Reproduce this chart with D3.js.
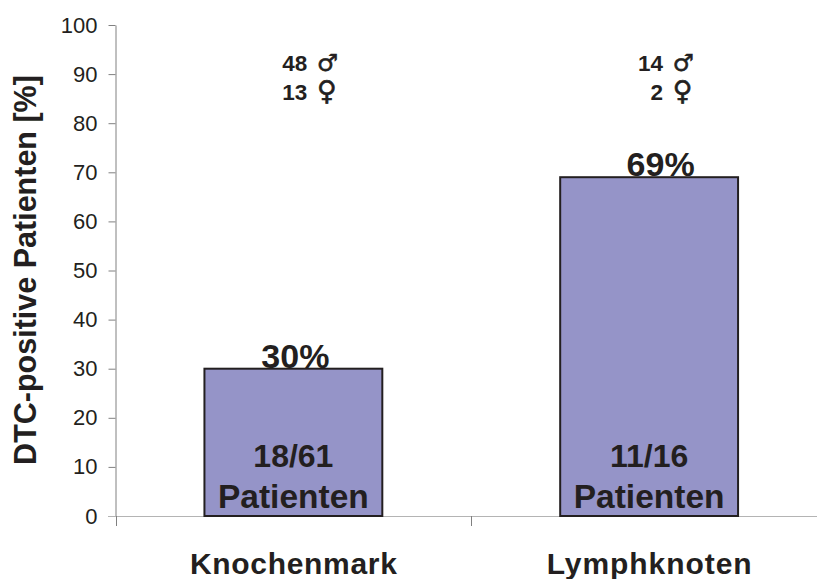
<!DOCTYPE html>
<html>
<head>
<meta charset="utf-8">
<script src="https://cdn.jsdelivr.net/npm/d3@7/dist/d3.min.js"></script>
<style>
  html, body { margin: 0; padding: 0; background: #fff; }
  svg { display: block; }
  text { font-family: "Liberation Sans", Arial, sans-serif; fill: #231f20; }
</style>
</head>
<body>
<svg id="chart" width="817" height="579"></svg>
<script>
const categories = ["Knochenmark", "Lymphknoten"];
const percentages = [30, 69];
const patientCounts = ["18/61", "11/16"];
const maleCounts = [48, 14];
const femaleCounts = [13, 2];
const yTicks = [0, 10, 20, 30, 40, 50, 60, 70, 80, 90, 100];
const yTitle = "DTC-positive Patienten [%]";
const patientWord = "Patienten";

const svg = d3.select("#chart");

const x = d3.scaleBand()
  .domain(categories)
  .range([115.5, 827])
  .paddingInner(0.5)
  .paddingOuter(0.25);
const step = x.step();

const y = d3.scaleLinear().domain([0, 100]).range([516, 25]);

// Value axis
const yAxis = svg.append("g")
  .attr("transform", "translate(115.5,0)")
  .call(d3.axisLeft(y).tickValues(yTicks).tickSize(7).tickPadding(11).tickSizeOuter(0));
yAxis.select(".domain").attr("stroke", "#808080").attr("stroke-width", 1);
yAxis.selectAll("line").attr("stroke", "#808080").attr("stroke-width", 1);
yAxis.selectAll("text")
  .attr("font-size", 22)
  .style("font-family", '"Liberation Sans", Arial, sans-serif')
  .style("fill", "#231f20");

// Category baseline with ticks between the groups
svg.append("line")
  .attr("x1", 108).attr("x2", 817)
  .attr("y1", y(0) + 0.5).attr("y2", y(0) + 0.5)
  .attr("stroke", "#b4b4b4").attr("stroke-width", 1);
svg.selectAll(".cat-tick")
  .data(categories)
  .join("line")
  .attr("class", "cat-tick")
  .attr("x1", d => Math.round(x(d) - step * 0.25) + 0.5)
  .attr("x2", d => Math.round(x(d) - step * 0.25) + 0.5)
  .attr("y1", y(0))
  .attr("y2", y(0) + 10)
  .attr("stroke", "#808080");

// Bars
svg.selectAll(".bar")
  .data(categories)
  .join("rect")
  .attr("class", "bar")
  .attr("x", d => x(d))
  .attr("width", x.bandwidth())
  .attr("y", (d, i) => y(percentages[i]))
  .attr("height", (d, i) => y(0) - y(percentages[i]))
  .attr("fill", "#9594c8")
  .attr("stroke", "#231f20")
  .attr("stroke-width", 2);

const mid = d => x(d) + x.bandwidth() / 2;

// Percentage above each bar; the second label sits right of its bar's centre
const pctShift = [2, 11.5];
svg.selectAll(".pct")
  .data(categories)
  .join("text")
  .attr("class", "pct")
  .attr("x", (d, i) => mid(d) + pctShift[i])
  .attr("y", (d, i) => y(percentages[i]) - 1)
  .attr("text-anchor", "middle")
  .attr("font-size", 34)
  .attr("font-weight", "bold")
  .text((d, i) => percentages[i] + "%");

// Patient counts inside each bar
svg.selectAll(".count")
  .data(categories)
  .join("text")
  .attr("class", "count")
  .attr("x", mid)
  .attr("y", 467)
  .attr("text-anchor", "middle")
  .attr("font-size", 32)
  .attr("font-weight", "bold")
  .text((d, i) => patientCounts[i]);
svg.selectAll(".word")
  .data(categories)
  .join("text")
  .attr("class", "word")
  .attr("x", mid)
  .attr("y", 507.5)
  .attr("text-anchor", "middle")
  .attr("font-size", 33.5)
  .attr("font-weight", "bold")
  .text(patientWord);

// Category names
svg.selectAll(".cat")
  .data(categories)
  .join("text")
  .attr("class", "cat")
  .attr("x", mid)
  .attr("y", 573.5)
  .attr("text-anchor", "middle")
  .attr("font-size", 30)
  .attr("font-weight", "bold")
  .attr("textLength", (d, i) => i === 0 ? 207 : 205)
  .text(d => d);

// Male and female counts, with the number right-aligned against its symbol
[[maleCounts, "\u2642", 71, 23.5], [femaleCounts, "\u2640", 100, 27]].forEach(([counts, symbol, base, symbolSize]) => {
  svg.selectAll(null)
    .data(categories)
    .join("text")
    .attr("x", d => mid(d) + 14)
    .attr("y", base)
    .attr("text-anchor", "end")
    .attr("font-size", 22.5)
    .attr("font-weight", "bold")
    .text((d, i) => counts[i]);
  svg.selectAll(null)
    .data(categories)
    .join("text")
    .attr("x", d => mid(d) + 23.5)
    .attr("y", base)
    .attr("font-size", symbolSize)
    .attr("stroke", "#231f20")
    .attr("stroke-width", 0.6)
    .style("font-family", '"DejaVu Sans", sans-serif')
    .text(symbol);
});

// Value axis title
svg.append("text")
  .attr("transform", "translate(36,270) rotate(-90)")
  .attr("text-anchor", "middle")
  .attr("font-size", 30.5)
  .attr("font-weight", "bold")
  .text(yTitle);
</script>
</body>
</html>
